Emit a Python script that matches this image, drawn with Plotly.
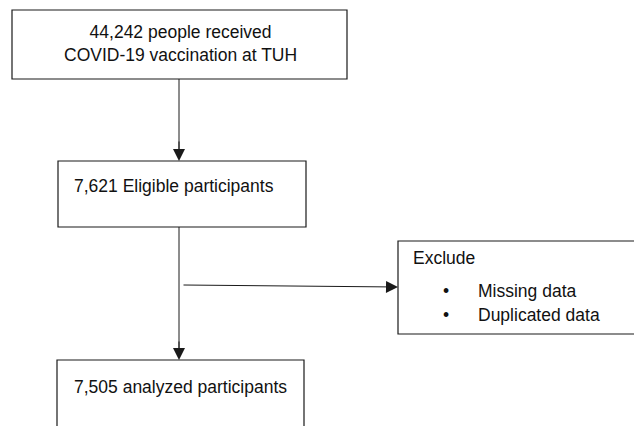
import plotly.graph_objects as go

# Flowchart content
box_labels = [
    "44,242 people received<br>COVID-19 vaccination at TUH",
    "7,621 Eligible participants",
    "7,505 analyzed participants",
]
exclude_title = "Exclude"
exclude_items = ["Missing data", "Duplicated data"]

W, H = 634, 426
FONT = "Liberation Sans, Arial, sans-serif"
FS = 17.5
LC = "#1a1a1a"

fig = go.Figure()
fig.add_trace(go.Scatter(x=[0, W], y=[0, H], mode="markers", marker=dict(opacity=0), hoverinfo="skip", showlegend=False))

boxes = [(12, 10, 347, 79), (58, 161, 306, 227), (57, 360, 304, 440)]
for (x0, y0, x1, y1) in boxes:
    fig.add_shape(type="rect", x0=x0, y0=y0, x1=x1, y1=y1, line=dict(color=LC, width=1.2), fillcolor="white", layer="below")
# exclude box: open on the right (cut by the image edge)
fig.add_shape(type="path", path="M 640 241 L 398 241 L 398 334 L 640 334", line=dict(color=LC, width=1.2), layer="below")

# lines
fig.add_shape(type="line", x0=179, y0=79, x1=179, y1=150, line=dict(color=LC, width=1))
fig.add_shape(type="line", x0=179, y0=227, x1=179, y1=350, line=dict(color=LC, width=1))

def arrow(x, y, ax, ay):
    fig.add_annotation(x=x, y=y, ax=ax, ay=ay, xref="x", yref="y", axref="x", ayref="y",
                       text="", showarrow=True, arrowhead=2, arrowsize=2.4, arrowwidth=1,
                       arrowcolor=LC, standoff=0, startstandoff=0)

arrow(179, 161, 179, 140)
arrow(179, 360, 179, 340)
arrow(398, 287, 182, 285)

def txt(x, y, s, anchor="center"):
    fig.add_annotation(x=x, y=y, xref="x", yref="y", text=s, showarrow=False,
                       xanchor=anchor, yanchor="middle", align=anchor if anchor != "center" else "center",
                       font=dict(family=FONT, size=FS, color="#111"))

txt(180, 43, box_labels[0])
txt(72, 186, box_labels[1], "left")
txt(180, 387, box_labels[2])
txt(411, 258, exclude_title, "left")
for i, item in enumerate(exclude_items):
    yy = 291 + i * 24
    txt(441, yy, "•", "left")
    txt(476, yy, item, "left")

fig.update_layout(
    width=W, height=H, margin=dict(l=0, r=0, t=0, b=0),
    paper_bgcolor="white", plot_bgcolor="white",
    xaxis=dict(range=[0, W], visible=False, fixedrange=True),
    yaxis=dict(range=[H, 0], visible=False, fixedrange=True),
    showlegend=False,
)
fig.write_html("out.html", config={"displayModeBar": False},
               post_script="document.body.style.margin='0';document.body.style.overflow='hidden';")
